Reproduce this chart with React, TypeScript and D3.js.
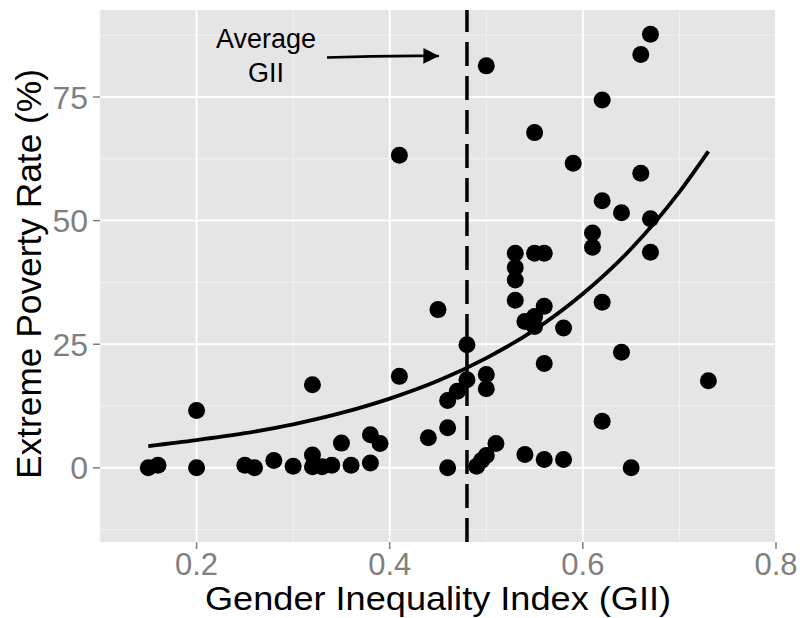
import React, { useEffect, useRef } from "react";
import * as d3 from "d3";

// GII (x) and extreme poverty rate (y)
const gii = [
  0.15, 0.16, 0.2, 0.2, 0.25, 0.26, 0.28, 0.3, 0.32, 0.32, 0.32, 0.33, 0.34, 0.35,
  0.36, 0.38, 0.38, 0.39, 0.41, 0.41, 0.44, 0.45, 0.46, 0.46, 0.46, 0.47, 0.48,
  0.48, 0.49, 0.495, 0.5, 0.5, 0.5, 0.5, 0.51, 0.53, 0.53, 0.53, 0.53, 0.54, 0.54,
  0.55, 0.55, 0.55, 0.55, 0.56, 0.56, 0.56, 0.56, 0.58, 0.58, 0.59, 0.61, 0.61,
  0.62, 0.62, 0.62, 0.62, 0.64, 0.64, 0.65, 0.66, 0.66, 0.67, 0.67, 0.67, 0.73,
];
const poverty = [
  0, 0.5, 0, 11.6, 0.5, 0, 1.5, 0.3, 16.8, 2.6, 0.2, 0.2, 0.5, 5.0,
  0.5, 6.7, 1.0, 4.9, 63.2, 18.5, 6.1, 32.0, 13.6, 8.1, 0, 15.5, 24.9,
  17.8, 0.3, 1.5, 2.5, 81.3, 18.9, 16.0, 4.9, 43.4, 40.5, 38.0, 33.9, 29.6, 2.7,
  67.8, 43.4, 30.6, 28.6, 43.4, 32.7, 21.1, 1.7, 28.3, 1.7, 61.6, 47.5, 44.6,
  74.4, 54.0, 33.5, 9.4, 51.6, 23.4, 0, 83.6, 59.6, 87.7, 50.4, 43.6, 17.6,
];

// fitted curve, read at a few x positions
const fitX = [0.15, 0.2, 0.25, 0.3, 0.35, 0.4, 0.45, 0.5, 0.55, 0.6, 0.65, 0.7, 0.73];
const fitY = [4.4, 5.6, 7.0, 8.8, 11.1, 14.0, 17.6, 22.2, 27.9, 35.2, 44.3, 55.8, 64.0];

const avgGII = 0.48;

const xTicks = [0.2, 0.4, 0.6, 0.8];
const xMinor = [0.1, 0.3, 0.5, 0.7];
const yTicks = [0, 25, 50, 75];
const yMinor = [-12.5, 12.5, 37.5, 62.5, 87.5];

const W = 804;
const H = 618;
const FONT = "'Liberation Sans', Arial, Helvetica, sans-serif";

const App: React.FC = () => {
  const svgRef = useRef<SVGSVGElement>(null);

  useEffect(() => {
    if (!svgRef.current) return;
    const svg = d3.select(svgRef.current);
    svg.selectAll("*").remove();

    const panel = { left: 100, right: 776, top: 10, bottom: 542 };

    const x = d3.scaleLinear().domain([0.1, 0.8]).range([panel.left, panel.right]);
    const y = d3.scaleLinear().domain([-15, 92.6]).range([panel.bottom, panel.top]);

    // panel bg
    svg
      .append("rect")
      .attr("x", panel.left)
      .attr("y", panel.top)
      .attr("width", panel.right - panel.left)
      .attr("height", panel.bottom - panel.top)
      .attr("fill", "#E5E5E5");

    const grid = svg.append("g");
    // minor grid
    grid
      .selectAll("line.xm")
      .data(xMinor)
      .join("line")
      .attr("x1", (d) => x(d))
      .attr("x2", (d) => x(d))
      .attr("y1", panel.top)
      .attr("y2", panel.bottom)
      .attr("stroke", "#F2F2F2")
      .attr("stroke-width", 1);
    grid
      .selectAll("line.ym")
      .data(yMinor)
      .join("line")
      .attr("x1", panel.left)
      .attr("x2", panel.right)
      .attr("y1", (d) => y(d))
      .attr("y2", (d) => y(d))
      .attr("stroke", "#F2F2F2")
      .attr("stroke-width", 1);
    // major grid
    grid
      .selectAll("line.xM")
      .data(xTicks)
      .join("line")
      .attr("x1", (d) => x(d))
      .attr("x2", (d) => x(d))
      .attr("y1", panel.top)
      .attr("y2", panel.bottom)
      .attr("stroke", "#FFFFFF")
      .attr("stroke-width", 2);
    grid
      .selectAll("line.yM")
      .data(yTicks)
      .join("line")
      .attr("x1", panel.left)
      .attr("x2", panel.right)
      .attr("y1", (d) => y(d))
      .attr("y2", (d) => y(d))
      .attr("stroke", "#FFFFFF")
      .attr("stroke-width", 2);

    // avg line (drawn bottom -> top)
    svg
      .append("line")
      .attr("x1", x(avgGII))
      .attr("x2", x(avgGII))
      .attr("y1", panel.bottom)
      .attr("y2", panel.top)
      .attr("stroke", "#000")
      .attr("stroke-width", 3.5)
      .attr("stroke-dasharray", "24 10");

    // points
    svg
      .append("g")
      .selectAll("circle")
      .data(gii.map((g, i) => [g, poverty[i]]))
      .join("circle")
      .attr("cx", (d) => x(d[0]))
      .attr("cy", (d) => y(d[1]))
      .attr("r", 8.5)
      .attr("fill", "#000");

    // fit curve
    const line = d3
      .line<number>()
      .x((d) => x(d))
      .y((_, i) => y(fitY[i]))
      .curve(d3.curveMonotoneX);
    svg
      .append("path")
      .attr("d", line(fitX))
      .attr("fill", "none")
      .attr("stroke", "#000")
      .attr("stroke-width", 3.8);

    // annotation
    const note = svg
      .append("text")
      .attr("font-family", FONT)
      .attr("font-size", 27)
      .attr("text-anchor", "middle")
      .attr("fill", "#000");
    note.append("tspan").attr("x", 266).attr("y", 48).text("Average");
    note.append("tspan").attr("x", 266).attr("y", 82).text("GII");

    const defs = svg.append("defs");
    defs
      .append("marker")
      .attr("id", "arr")
      .attr("viewBox", "0 0 10 10")
      .attr("refX", 10)
      .attr("refY", 5)
      .attr("markerWidth", 6)
      .attr("markerHeight", 6)
      .attr("markerUnits", "strokeWidth")
      .attr("orient", "auto")
      .append("path")
      .attr("d", "M0,0 L10,5 L0,10 Z")
      .attr("fill", "#000");

    svg
      .append("path")
      .attr("d", "M327,57.5 Q383,55.5 439,56")
      .attr("fill", "none")
      .attr("stroke", "#000")
      .attr("stroke-width", 2.6)
      .attr("marker-end", "url(#arr)");

    // axes ticks + labels
    const axes = svg.append("g").attr("font-family", FONT).attr("fill", "#7F7F7F");
    xTicks.forEach((t) => {
      axes
        .append("line")
        .attr("x1", x(t))
        .attr("x2", x(t))
        .attr("y1", panel.bottom)
        .attr("y2", panel.bottom + 7)
        .attr("stroke", "#7F7F7F")
        .attr("stroke-width", 1.5);
      axes
        .append("text")
        .attr("x", x(t))
        .attr("y", 575)
        .attr("text-anchor", "middle")
        .attr("font-size", 31)
        .text(d3.format(".1f")(t));
    });
    yTicks.forEach((t) => {
      axes
        .append("line")
        .attr("x1", panel.left - 7)
        .attr("x2", panel.left)
        .attr("y1", y(t))
        .attr("y2", y(t))
        .attr("stroke", "#7F7F7F")
        .attr("stroke-width", 1.5);
      axes
        .append("text")
        .attr("x", 88)
        .attr("y", y(t))
        .attr("dy", "0.36em")
        .attr("text-anchor", "end")
        .attr("font-size", 32)
        .text(String(t));
    });

    // titles
    svg
      .append("text")
      .attr("x", (panel.left + panel.right) / 2)
      .attr("y", 610)
      .attr("text-anchor", "middle")
      .attr("font-family", FONT)
      .attr("font-size", 33)
      .attr("textLength", 466)
      .attr("lengthAdjust", "spacingAndGlyphs")
      .attr("fill", "#000")
      .text("Gender Inequality Index (GII)");

    svg
      .append("text")
      .attr("transform", `translate(41, ${(panel.top + panel.bottom) / 2 - 2}) rotate(-90)`)
      .attr("text-anchor", "middle")
      .attr("font-family", FONT)
      .attr("font-size", 35)
      .attr("textLength", 410)
      .attr("lengthAdjust", "spacingAndGlyphs")
      .attr("fill", "#000")
      .text("Extreme Poverty Rate (%)");
  }, []);

  return (
    <svg
      ref={svgRef}
      width={W}
      height={H}
      style={{ position: "absolute", left: 0, top: 0, background: "#fff" }}
    />
  );
};

export default App;
